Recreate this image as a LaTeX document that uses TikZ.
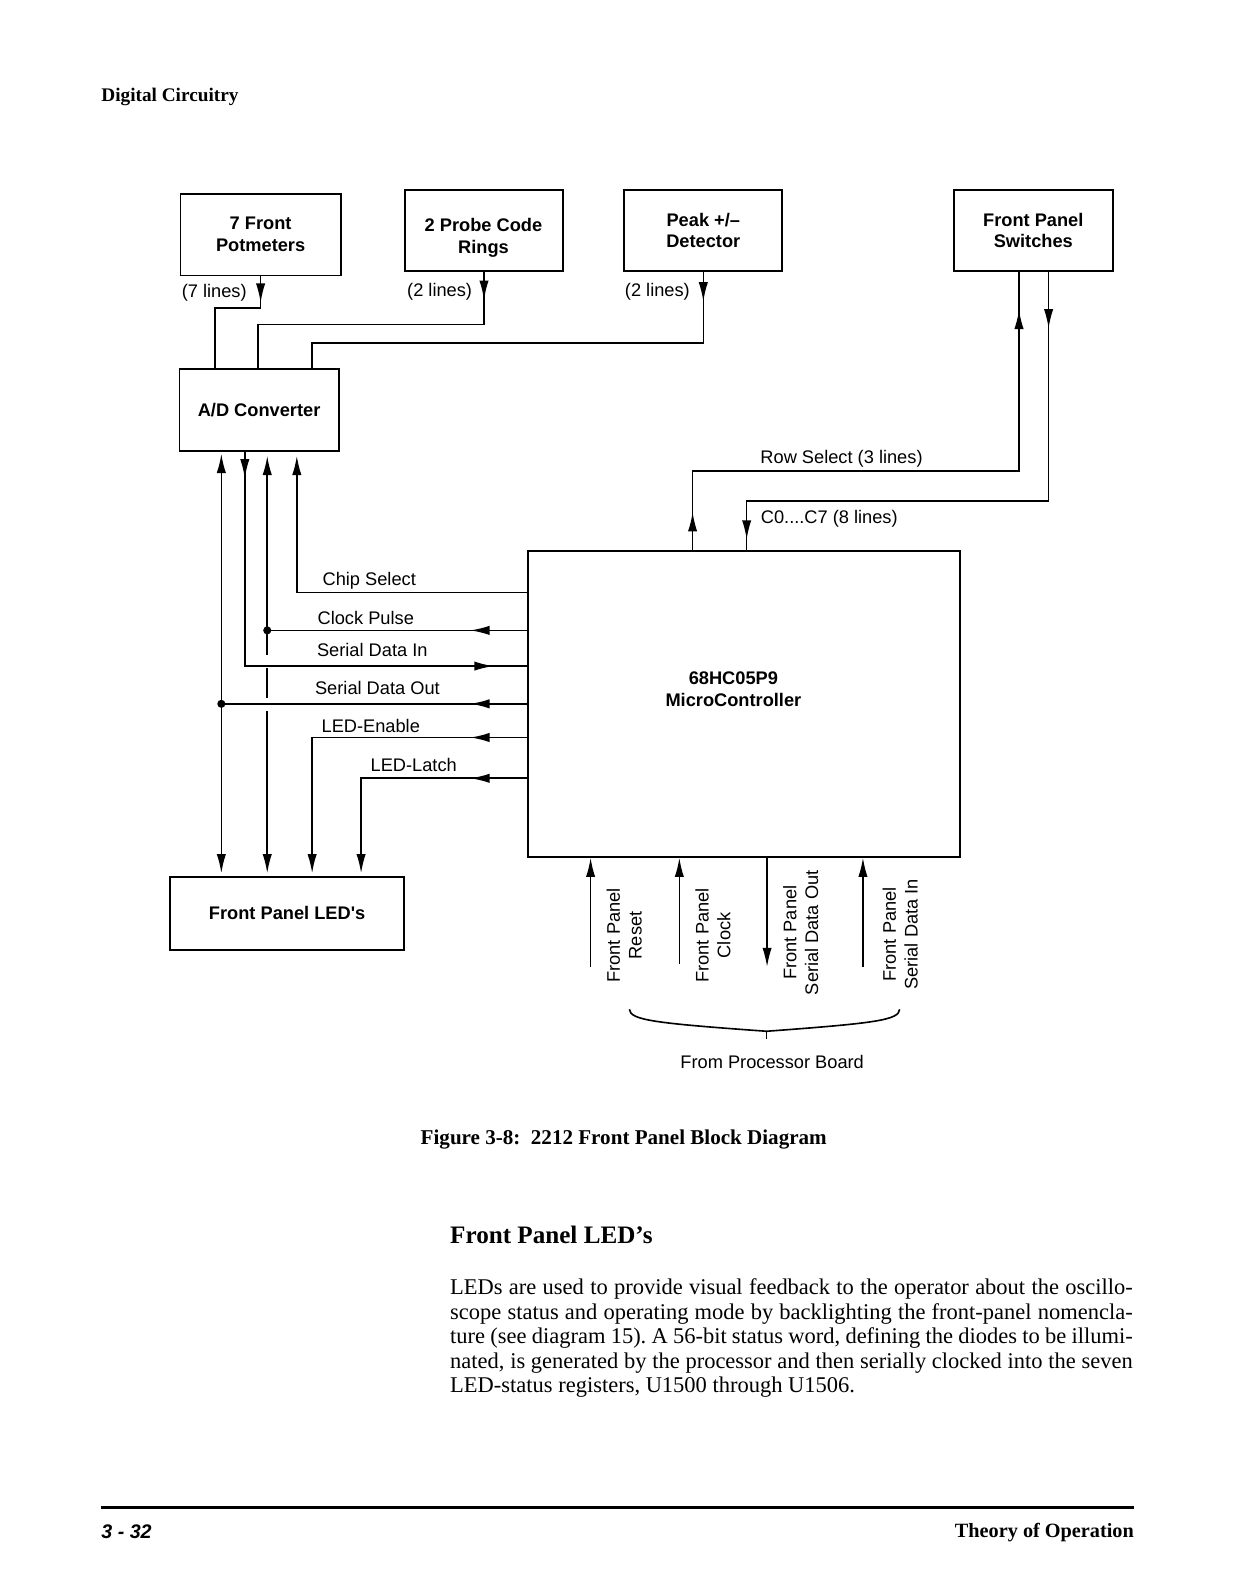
\documentclass[tikz,border=0pt]{standalone}
\usepackage{fontspec}
\setmainfont{Liberation Serif}
\newfontfamily\diagfont{Liberation Sans}
\usetikzlibrary{arrows.meta, decorations.markings}
\frenchspacing

\newcommand{\pxu}{0.5034pt}
\newlength{\bodyw}
\setlength{\bodyw}{336.8pt}

\tikzstyle{block} = [rectangle, draw, line width=0.9pt, inner sep=0pt, align=center, font=\diagfont\bfseries\fontsize{9}{10.8}\selectfont]
\tikzstyle{line} = [draw, line width=0.8pt]
\tikzstyle{sig} = [inner sep=0pt, font=\diagfont\fontsize{9}{10.8}\selectfont]
\tikzstyle{vsig} = [sig, rotate=90, align=center]
\tikzstyle{dot} = [circle, fill, inner sep=0pt, minimum size=4pt]
\tikzstyle{gap} = [draw=white, line width=3pt]
\tikzset{
  >={Latex[length=9.5pt, width=4.6pt]},
  marr/.style={postaction={decorate}, decoration={markings, mark=at position #1 with {\arrow{>}}}},
  marr2/.style 2 args={postaction={decorate}, decoration={markings, mark=at position #1 with {\arrow{>}}, mark=at position #2 with {\arrow{>}}}},
}

\begin{document}
\begin{tikzpicture}[x=\pxu, y=-\pxu]
\fill[white] (0,0) rectangle (1215.7,1562.7);
\useasboundingbox (0,0) rectangle (1215.7,1562.7);

% page head
\node[anchor=west, inner sep=0pt, font=\bfseries\fontsize{9.5}{11}\selectfont] (hdr) at (99,95) {Digital Circuitry};

% blocks
\node[block, minimum width=157*\pxu, minimum height=80*\pxu] (pot) at (255.5,230) {7 Front\\Potmeters};
\node[block, minimum width=155*\pxu, minimum height=80*\pxu] (probe) at (474.5,226) {};
\node[block, draw=none] (probetxt) at (474,233) {2 Probe Code\\Rings};
\node[block, minimum width=155*\pxu, minimum height=80*\pxu] (peak) at (689.5,226) {Peak +/–\\Detector};
\node[block, minimum width=156*\pxu, minimum height=80*\pxu] (sw) at (1013,226) {Front Panel\\Switches};
\node[block, minimum width=156*\pxu, minimum height=80*\pxu] (adc) at (254,402) {A/D Converter};
\node[block, minimum width=423*\pxu, minimum height=300*\pxu] (mcu) at (729.5,690) {};
\node[block, draw=none] (mcutxt) at (719,676) {68HC05P9\\MicroController};
\node[block, minimum width=229*\pxu, minimum height=71*\pxu] (leds) at (281.5,895.5) {Front Panel LED's};

% sensors into the converter
\coordinate (potbend) at (211,302);
\coordinate (probebend) at (253,318);
\coordinate (peakbend) at (306,336);
\draw[line, marr=13pt] (pot.south) |- (potbend) -- (potbend |- adc.north);
\draw[line, marr=13.6pt] (probe.south) |- (probebend) -- (probebend |- adc.north);
\draw[line, marr=14.4pt] (peak.south) |- (peakbend) -- (peakbend |- adc.north);
\node[sig] (potlbl) at (210,287) {(7 lines)};
\node[sig] (probelbl) at (431,286) {(2 lines)};
\node[sig] (peaklbl) at (644.5,286) {(2 lines)};

% switch matrix
\coordinate (rsbend) at (679,462);
\coordinate (rsup) at (999,462);
\coordinate (cup) at (1028,491);
\coordinate (cdown) at (732,491);
\draw[line, marr2={18.6pt}{279.6pt}] (rsbend |- mcu.north) -- (rsbend) -- (rsup) -- (rsup |- sw.south);
\draw[line, marr2={27.7pt}{280.9pt}] (cup |- sw.south) -- (cup) -- (cdown) -- (cdown |- mcu.north);
\node[sig] (rslbl) at (825,450) {Row Select (3 lines)};
\node[sig] (clbl) at (813,509) {C0....C7 (8 lines)};

% converter / LED lines
\coordinate (csel) at (291,581);
\coordinate (cpdot) at (262,618);
\coordinate (sdin) at (240,653);
\coordinate (sdodot) at (217,690);
\coordinate (lena) at (306,723);
\coordinate (llat) at (354,763);

\draw[line, ->, shorten >=2pt] (csel -| mcu.west) -- (csel) -- (csel |- adc.south);
\draw[line, marr=28.2pt] (cpdot -| mcu.west) -- (cpdot);
\draw[line, ->, shorten >=2pt] (cpdot) -- (cpdot |- adc.south);
\draw[line, ->, shorten >=1.5pt] (cpdot) -- (cpdot |- leds.north);
\draw[gap] (262,642) -- (262,655);
\draw[gap] (262,684) -- (262,697);
\draw[line, marr2={13.1pt}{228.5pt}] (sdin |- adc.south) -- (sdin) -- (sdin -| mcu.west);
\draw[line, marr=28.2pt] (sdodot -| mcu.west) -- (sdodot);
\draw[line, ->, shorten >=1pt] (sdodot) -- (sdodot |- adc.south);
\draw[line, ->, shorten >=1.5pt] (sdodot) -- (sdodot |- leds.north);
\draw[line, marr=28.2pt, ->, shorten >=1.5pt] (lena -| mcu.west) -- (lena) -- (lena |- leds.north);
\draw[line, marr=28.2pt, ->, shorten >=1.5pt] (llat -| mcu.west) -- (llat) -- (llat |- leds.north);
\node[dot] (cpd) at (cpdot) {};
\node[dot] (sdod) at (sdodot) {};

\node[sig] (cslbl) at (362,569) {Chip Select};
\node[sig] (cplbl) at (358.6,606) {Clock Pulse};
\node[sig] (sdilbl) at (365,637) {Serial Data In};
\node[sig] (sdolbl) at (370,674.5) {Serial Data Out};
\node[sig] (lelbl) at (363.5,711.5) {LED-Enable};
\node[sig] (lllbl) at (405.6,750) {LED-Latch};

% from processor board
\coordinate (rst) at (579,948);
\coordinate (clk) at (666,945);
\coordinate (fsdo) at (752,948);
\coordinate (fsdi) at (846,948);
\draw[line, ->] (rst) -- (rst |- mcu.south);
\draw[line, ->] (clk) -- (clk |- mcu.south);
\draw[line, ->] (fsdo |- mcu.south) -- (fsdo);
\draw[line, ->] (fsdi) -- (fsdi |- mcu.south);
\node[vsig] (rstlbl) at (612,917) {Front Panel\\Reset};
\node[vsig] (clklbl) at (699,917) {Front Panel\\Clock};
\node[vsig] (fsdolbl) at (785,914.4) {Front Panel\\Serial Data Out};
\node[vsig] (fsdilbl) at (882.5,916) {Front Panel\\Serial Data In};

\coordinate (brl) at (617,989.5);
\coordinate (brm) at (751.5,1011);
\coordinate (brr) at (882,989.5);
\draw[line] (brl) .. controls (618,1000) and (640,1003) .. (brm) .. controls (860,1003) and (881,1000) .. (brr);
\draw[line] (brm) -- ++(0,8);
\node[sig] (fromlbl) at (757,1041) {From Processor Board};

% caption and text
\node[inner sep=0pt, font=\bfseries\fontsize{10.4}{12}\selectfont] (cap) at (611.5,1117) {Figure 3-8:\ \ 2212 Front Panel Block Diagram};
\node[anchor=west, inner sep=0pt, font=\bfseries\fontsize{12.4}{14}\selectfont] (ledhead) at (441,1211) {Front Panel LED's};
\node[anchor=north west, align=left, inner sep=0pt, font=\fontsize{11.1}{12.1}\selectfont] (ledtext) at (441,1253.5) {%
\hbox to\bodyw{LEDs are used to provide visual feedback to the operator about the oscillo-}\\
\hbox to\bodyw{scope status and operating mode by backlighting the front-panel nomencla-}\\
\hbox to\bodyw{ture (see diagram 15). A 56-bit status word, defining the diodes to be illumi-}\\
\hbox to\bodyw{nated, is generated by the processor and then serially clocked into the seven}\\
LED-status registers, U1500 through U1506.};

% page foot
\draw[line width=1.2pt] (99,1478) -- (1112,1478);
\node[anchor=west, inner sep=0pt, font=\diagfont\bfseries\itshape\fontsize{9.7}{11}\selectfont] (pgno) at (99,1502) {3 - 32};
\node[anchor=east, inner sep=0pt, font=\bfseries\fontsize{10}{12}\selectfont] (foot) at (1112,1502) {Theory of Operation};
\end{tikzpicture}
\end{document}
